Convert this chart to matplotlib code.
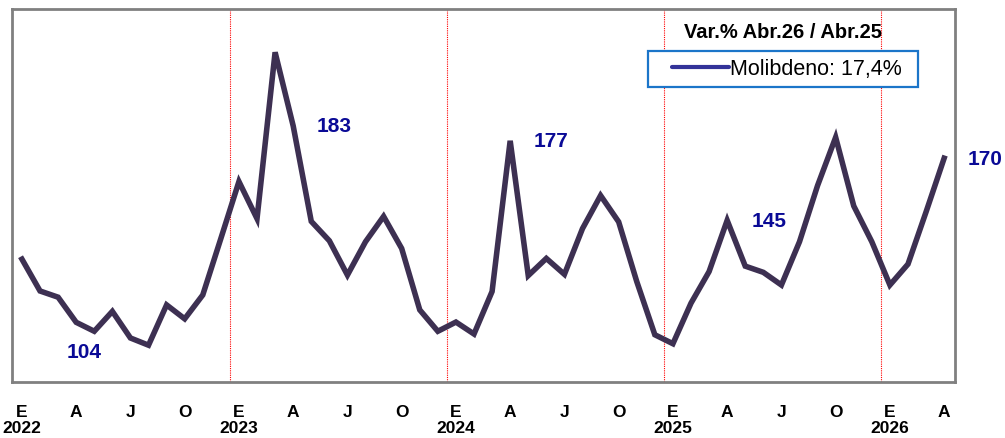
import matplotlib.pyplot as plt
from matplotlib.lines import Line2D
from matplotlib.patches import Rectangle

# Molibdeno, indice mensual, Ene.2022 - Abr.2026
years = ['2022', '2023', '2024', '2025', '2026']
month_letters = ['E', 'A', 'J', 'O']
molibdeno = [
    129.4, 116.6, 114.1, 104.0, 100.4, 108.4, 97.7, 94.8, 111.0, 105.4, 115.0, 137.7,   # 2022
    160.6, 145.7, 212.6, 183.0, 144.6, 136.8, 123.0, 136.4, 146.6, 133.7, 109.0, 100.4,  # 2023
    104.1, 99.3, 116.4, 177.0, 122.8, 129.7, 123.3, 141.7, 155.0, 144.4, 120.4, 99.0,    # 2024
    95.4, 111.7, 124.4, 145.0, 126.6, 124.1, 119.0, 136.4, 159.0, 178.4, 150.8, 136.4,   # 2025
    119.0, 127.4, 148.4, 170.0,                                                          # 2026
]
labeled_idx = [3, 15, 27, 39, 51]
legend_label = 'Molibdeno: 17,4%'
legend_title = 'Var.% Abr.26 / Abr.25'

plt.rcParams['font.family'] = ['Liberation Sans', 'DejaVu Sans']

W, H = 1005, 439
fig = plt.figure(figsize=(W / 100, H / 100), dpi=100)
ax = fig.add_axes([12 / W, 1 - 383 / H, (955 - 12) / W, (383 - 10) / H])

x = list(range(len(molibdeno)))
ax.plot(x, molibdeno, color='#3D3052', lw=4.0, solid_joinstyle='miter', zorder=3)

# separadores de año
for k in range(1, len(years)):
    ax.axvline(12 * k - 0.5, color='red', lw=0.8, ls=(0, (1, 1)), zorder=1)

# etiquetas de valor
offsets = {3: (8, -29), 15: (41, 0), 27: (41, 0), 39: (42, 0), 51: (41, 0)}
for i in labeled_idx:
    ax.annotate(f'{molibdeno[i]:.0f}', (i, molibdeno[i]), xytext=offsets[i],
                textcoords='offset pixels', ha='center', va='center',
                fontsize=15, fontweight='bold', color='#0A0A96')

ticks = list(range(0, len(molibdeno), 3))
tick_labels = []
for t in ticks:
    lab = month_letters[(t % 12) // 3]
    if t % 12 == 0:
        lab += '\n' + years[t // 12]
    tick_labels.append(lab)
ax.set_xticks(ticks)
ax.set_xticklabels(tick_labels, fontsize=12.5, fontweight='bold', linespacing=1.05)
ax.tick_params(axis='x', length=0, pad=16)
ax.set_yticks([])
ax.set_xlim(-0.55, 51.6)
ax.set_ylim(80, 230)

for s in ax.spines.values():
    s.set_color('#808080')
    s.set_linewidth(2)

# leyenda: caja azul, titulo encima fuera de la caja
fig.patches.append(Rectangle((648 / W, 1 - 88 / H), 270 / W, 36 / H,
                             transform=fig.transFigure, facecolor='white',
                             edgecolor='#1B75C9', lw=1.6, zorder=4))
handle = Line2D([], [], color='#333399', lw=3.0, solid_capstyle='round')
leg = fig.legend([handle], [legend_label], loc='center left',
                 bbox_to_anchor=(668 / W, 1 - 70 / H), bbox_transform=fig.transFigure,
                 fontsize=15.5, frameon=False, handlelength=2.65, handletextpad=0.05,
                 borderpad=0.2, borderaxespad=0)
leg.set_zorder(5)
fig.text(783 / W, 1 - 33 / H, legend_title, ha='center', va='center',
         fontsize=14.5, fontweight='bold')

fig.savefig('out.png', dpi=100)
